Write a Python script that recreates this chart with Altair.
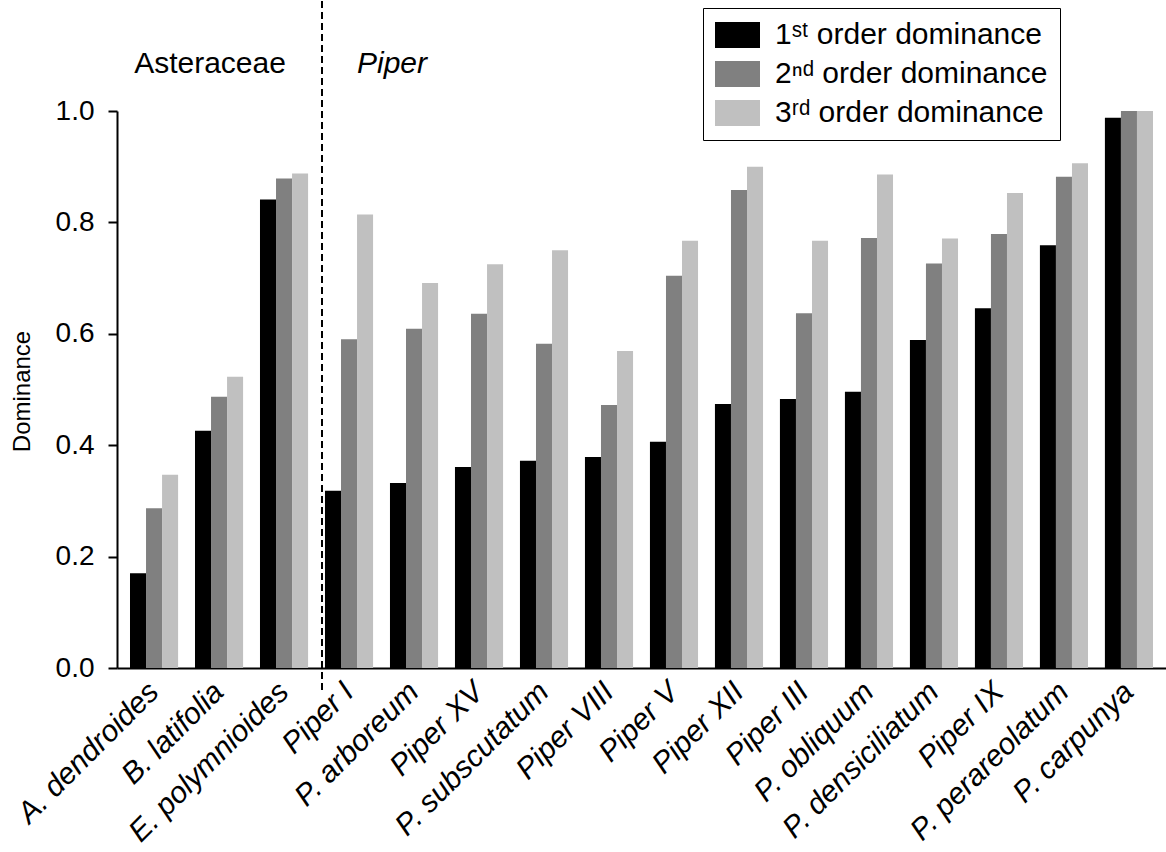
import altair as alt
import pandas as pd

species = ["A. dendroides", "B. latifolia", "E. polymnioides", "Piper I", "P. arboreum",
           "Piper XV", "P. subscutatum", "Piper VIII", "Piper V", "Piper XII", "Piper III",
           "P. obliquum", "P. densiciliatum", "Piper IX", "P. perareolatum", "P. carpunya"]
first_order = [0.17, 0.426, 0.841, 0.318, 0.332, 0.361, 0.372, 0.379, 0.406, 0.474, 0.483,
               0.496, 0.589, 0.646, 0.759, 0.988]
second_order = [0.287, 0.487, 0.879, 0.59, 0.609, 0.636, 0.582, 0.472, 0.704, 0.858, 0.637,
                0.772, 0.726, 0.779, 0.882, 1.0]
third_order = [0.347, 0.523, 0.888, 0.814, 0.691, 0.725, 0.75, 0.569, 0.767, 0.9, 0.767,
               0.886, 0.771, 0.853, 0.906, 1.0]
series = ["1ˢᵗ order dominance", "2ⁿᵈ order dominance", "3ʳᵈ order dominance"]
colors = ["#000000", "#808080", "#c0c0c0"]

rows = []
for i, sp in enumerate(species):
    for s, vals in zip(series, [first_order, second_order, third_order]):
        rows.append({"species": sp, "order": s, "value": vals[i]})
df = pd.DataFrame(rows)

FONT = "Liberation Sans"

bars = alt.Chart(df).mark_bar().encode(
    x=alt.X("species:N", sort=species, title=None,
            scale=alt.Scale(paddingInner=0.26, paddingOuter=0.2),
            axis=alt.Axis(labelAngle=-45, labelAlign="right", labelBaseline="middle",
                          labelFontStyle="italic", labelFontSize=30, labelFont=FONT,
                          labelColor="black", ticks=False, labelPadding=19,
                          domainColor="black", domainWidth=2, labelLimit=400)),
    xOffset=alt.XOffset("order:N", sort=series),
    y=alt.Y("value:Q", title="Dominance",
            scale=alt.Scale(domain=[0, 1], nice=False),
            axis=alt.Axis(values=[0, 0.2, 0.4, 0.6, 0.8, 1.0], format=".1f", grid=False,
                          labelFontSize=28, labelFont=FONT, labelColor="black",
                          tickSize=9, tickWidth=2, tickColor="black", labelPadding=14,
                          domainColor="black", domainWidth=2,
                          titleFontSize=24, titleFont=FONT, titleFontWeight="normal",
                          titleColor="black", titleX=-95, titleY=280, titleAngle=-90,
                          titleAlign="center", titleBaseline="middle")),
    color=alt.Color("order:N", sort=series,
                    scale=alt.Scale(domain=series, range=colors),
                    legend=alt.Legend(title=None, orient="none", legendX=586, legendY=-103,
                                      symbolType="M-1,-0.867L2,-0.867L2,0.867L-1,0.867Z",
                                      symbolSize=900, symbolStrokeWidth=0,
                                      labelFontSize=30, labelFont=FONT, labelColor="black",
                                      labelLimit=500, strokeColor="black", padding=12,
                                      rowPadding=9, labelOffset=30)),
)

divider = alt.Chart(pd.DataFrame({"k": [0]})).mark_rule(
    color="black", strokeWidth=2, strokeDash=[7, 4]
).encode(x=alt.value(205), y=alt.value(-110), y2=alt.value(580))

labels_df = pd.DataFrame({"label": ["Asteraceae"]})
aster = alt.Chart(labels_df).mark_text(
    font=FONT, fontSize=30, color="black", align="center", baseline="alphabetic"
).encode(x=alt.value(93), y=alt.value(-38), text="label:N")

piper_df = pd.DataFrame({"label": ["Piper"]})
piper = alt.Chart(piper_df).mark_text(
    font=FONT, fontSize=30, fontStyle="italic", color="black", align="left",
    baseline="alphabetic"
).encode(x=alt.value(240), y=alt.value(-38), text="label:N")

chart = alt.layer(bars, divider, aster, piper).properties(
    width=1049, height=557,
    autosize=alt.AutoSizeParams(type="none"),
    padding={"left": 117, "top": 111, "right": 0, "bottom": 184},
).configure(background="white", view=alt.ViewConfig(stroke=None))

chart.save("out.html", embed_options={"renderer": "svg", "actions": False})
